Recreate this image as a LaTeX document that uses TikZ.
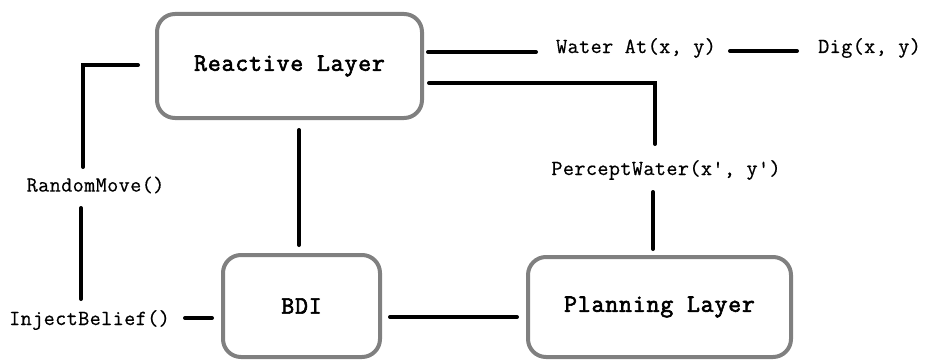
\documentclass[tikz,border=0pt]{standalone}
\usepackage{fontspec}
\newfontfamily\codefont[FakeBold=0.6, LetterSpace=2]{Latin Modern Mono}
\newfontfamily\layerfont[FakeBold=2.5, LetterSpace=3.5]{Latin Modern Mono}
\tikzset{
  layer/.style={draw=black!50, line width=4pt, rounded corners=18pt, fill=white,
    font=\layerfont\fontsize{25}{28}\selectfont, align=center, inner sep=0pt},
  call/.style={font=\codefont\fontsize{21.5}{24}\selectfont, inner sep=0pt},
  wire/.style={line width=4pt, line cap=round}
}
\begin{document}
\begin{tikzpicture}[x=1pt,y=-1pt]
\useasboundingbox (0,0) rectangle (925,361);

% layers
\node[layer, minimum width=265pt, minimum height=104pt] (rl) at (289.5,66) {Reactive Layer};
\node[layer, minimum width=157pt, minimum height=102pt] (bdi) at (301.5,306) {BDI};
\node[layer, minimum width=263pt, minimum height=100pt] (pl) at (659.5,307) {Planning Layer};

% method calls
\node[call] (rand) at (95.5,185) {RandomMove()};
\node[call] (inj) at (89.5,320) {InjectBelief()};
\node[call] (perc) at (666,170) {PerceptWater(x', y')};
\node[call] (wat) at (636,48) {Water At(x, y)};
\node[call, anchor=west] (dig) at (818,48) {Dig(x, y)};

% wire end points
\coordinate (rlL) at (138,65);
\coordinate (rlLc) at (83,65);
\coordinate (randT) at (83,167);
\coordinate (randB) at (81,208);
\coordinate (injT) at (81,299);
\coordinate (injR) at (185,318);
\coordinate (bdiL) at (212,318);
\coordinate (rlB) at (299,130);
\coordinate (bdiT) at (299,245);
\coordinate (bdiR) at (390,317);
\coordinate (plL) at (517,317);
\coordinate (rlR1) at (428,52);
\coordinate (watL) at (536,52);
\coordinate (watR) at (730,51);
\coordinate (digL) at (797,51);
\coordinate (rlR2) at (429,83);
\coordinate (percT) at (655,144);
\coordinate (percB) at (653,192);
\coordinate (plT) at (653,249);

% wires
\draw[wire] (rlL) -- (rlLc) -- (randT);
\draw[wire] (randB) -- (injT);
\draw[wire] (injR) -- (bdiL);
\draw[wire] (rlB) -- (bdiT);
\draw[wire] (bdiR) -- (plL);
\draw[wire] (rlR1) -- (watL);
\draw[wire] (watR) -- (digL);
\draw[wire] (rlR2) -| (percT);
\draw[wire] (percB) -- (plT);
\end{tikzpicture}
\end{document}
